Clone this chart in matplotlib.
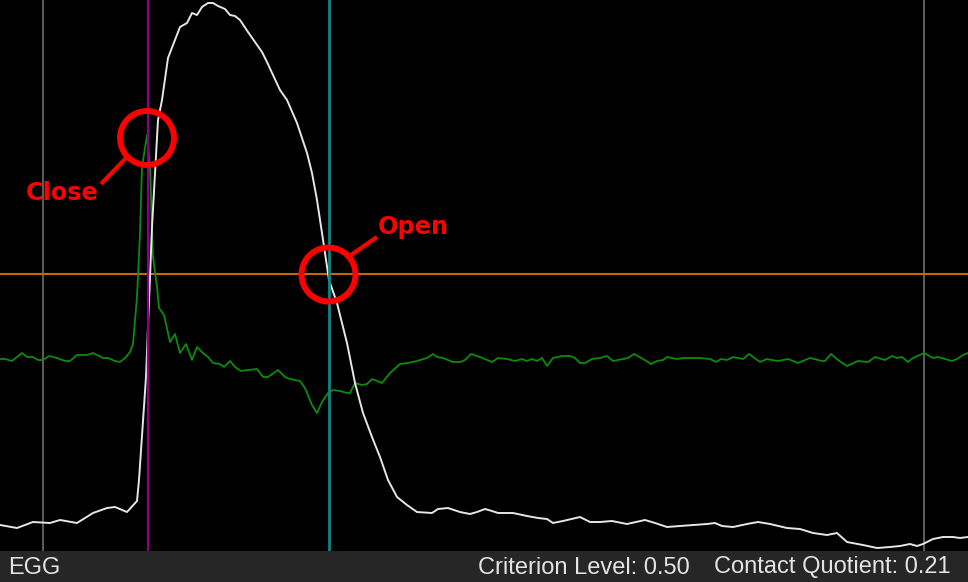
import matplotlib.pyplot as plt
from matplotlib.patches import Circle

# EGG waveform (white), sample position vs. amplitude (screen units, top = 0)
egg_t = [0, 17, 33, 50, 60, 77, 93, 107, 115, 127, 137, 139, 146, 152, 158, 162,
         168, 180, 187, 192, 197, 202, 208, 213, 218, 225, 230, 235, 240, 248,
         255, 262, 267, 273, 280, 287, 297, 307, 312, 317, 322, 325, 329, 337,
         347, 355, 363, 372, 380, 388, 397, 407, 417, 432, 438, 448, 460, 470,
         477, 485, 492, 498, 513, 527, 538, 547, 553, 563, 580, 590, 600, 612,
         627, 645, 655, 667, 680, 707, 715, 722, 733, 747, 758, 770, 787, 800,
         813, 827, 837, 847, 863, 877, 890, 900, 910, 917, 923, 933, 943, 953,
         960, 968]
egg_y = [525, 528, 522, 523, 520, 523, 513, 508, 507, 512, 501, 480, 377, 227,
         120, 100, 58, 27, 23, 13, 15, 7, 3, 3, 6, 9, 15, 16, 20, 32, 42, 52,
         62, 75, 90, 100, 123, 153, 173, 200, 233, 253, 280, 303, 343, 383, 413,
         437, 457, 480, 497, 505, 512, 513, 509, 508, 512, 514, 512, 509, 511,
         513, 513, 516, 518, 519, 523, 521, 517, 522, 522, 521, 524, 520, 523,
         527, 526, 524, 523, 526, 527, 524, 522, 524, 528, 529, 533, 535, 533,
         542, 545, 548, 547, 546, 544, 546, 544, 539, 537, 537, 538, 537]

# derivative of EGG (green)
degg_t = [0, 5, 12, 22, 27, 33, 38, 43, 49, 57, 65, 70, 77, 87, 93, 103, 108,
          115, 120, 125, 130, 133, 137, 140, 142, 147, 150, 153, 157, 159, 164,
          170, 175, 180, 186, 192, 197, 203, 208, 213, 220, 224, 230, 235, 241,
          248, 257, 263, 268, 278, 285, 290, 300, 305, 312, 317, 322, 328, 333,
          340, 347, 350, 355, 362, 367, 372, 382, 390, 400, 408, 417, 427, 433,
          437, 443, 453, 460, 465, 471, 480, 492, 498, 507, 515, 522, 527, 532,
          537, 542, 547, 553, 562, 570, 575, 580, 585, 592, 600, 607, 613, 623,
          628, 634, 643, 651, 657, 663, 667, 677, 683, 700, 710, 716, 721, 727,
          733, 743, 749, 760, 767, 772, 778, 788, 798, 810, 822, 825, 831, 838,
          847, 858, 868, 875, 885, 892, 897, 902, 908, 913, 924, 933, 938, 945,
          952, 957, 963, 968]
degg_y = [359, 359, 361, 353, 357, 357, 360, 360, 356, 358, 361, 361, 355, 355,
          353, 358, 358, 361, 362, 358, 352, 344, 297, 233, 167, 135, 167, 257,
          287, 308, 315, 342, 334, 353, 344, 360, 347, 353, 357, 363, 364, 367,
          361, 367, 371, 370, 369, 377, 377, 370, 377, 379, 381, 388, 405, 413,
          402, 393, 390, 391, 393, 393, 383, 385, 384, 379, 383, 373, 364, 363,
          361, 358, 354, 357, 358, 362, 362, 360, 354, 357, 362, 358, 359, 361,
          359, 361, 359, 361, 358, 366, 358, 356, 356, 358, 363, 363, 359, 358,
          356, 361, 359, 358, 354, 359, 364, 361, 360, 357, 359, 358, 358, 359,
          362, 359, 360, 357, 359, 354, 362, 359, 360, 361, 359, 363, 358, 361,
          361, 354, 360, 366, 361, 362, 357, 360, 356, 358, 357, 362, 358, 353,
          358, 357, 359, 361, 359, 355, 353]

cycle_marks = [43, 924]      # period boundaries
close_t = 148                # contact instant
open_t = 329                 # opening instant
criterion_y = 274            # criterion level line
criterion_level = 0.50
contact_quotient = 0.21

W, H, BAR = 968, 582, 31

fig = plt.figure(figsize=(W / 100, H / 100), dpi=100)
fig.patch.set_facecolor("#262626")

ax = fig.add_axes([0, BAR / H, 1, (H - BAR) / H])
ax.set_facecolor("black")
ax.set_xlim(0, W)
ax.set_ylim(H - BAR, 0)
ax.set_axis_off()
ax.add_patch(plt.Rectangle((0, 0), W, H - BAR, color="black", zorder=0))

for x in cycle_marks:
    ax.axvline(x, color="#6e6e6e", lw=1.2, zorder=1)
ax.axhline(criterion_y, color="#c8660f", lw=1.5, zorder=1)

ax.plot(degg_t, degg_y, color="#0b8c0b", lw=1.3, solid_joinstyle="round", zorder=2)
ax.plot(egg_t, egg_y, color="#e6e6e6", lw=1.4, solid_joinstyle="round", zorder=3)

ax.axvline(close_t, color="#880088", lw=1.6, zorder=4)
ax.axvline(open_t, color="#168282", lw=2.0, zorder=4)

# annotations
red = "#ff0000"
close_c = (147, 138)
open_c = (328.5, 274.5)
for c in (close_c, open_c):
    ax.add_patch(Circle(c, 27, fill=False, ec=red, lw=4.3, zorder=6, clip_on=False))
ax.plot([126, 101], [158, 184], color=red, lw=3, solid_capstyle="butt", zorder=6)
ax.plot([351, 377], [255, 237], color=red, lw=3, solid_capstyle="butt", zorder=6)
ax.text(26, 193, "Close", color=red, fontsize=17.3, fontweight="bold",
        family="DejaVu Sans", ha="left", va="center", zorder=7)
ax.text(378, 227, "Open", color=red, fontsize=17.3, fontweight="bold",
        family="DejaVu Sans", ha="left", va="center", zorder=7)

# status bar
ty = (BAR / 2 - 1) / H
fig.text(8 / W, ty, "EGG", color="#e4e4e4", fontsize=17, family="Liberation Sans",
         ha="left", va="center")
fig.text(690 / W, ty, f"Criterion Level: {criterion_level:.2f}", color="#e4e4e4",
         fontsize=17, family="Liberation Sans", ha="right", va="center")
fig.text(951 / W, ty, f"Contact Quotient: {contact_quotient:.2f}", color="#e4e4e4",
         fontsize=17, family="Liberation Sans", ha="right", va="center")

fig.savefig("out.png", dpi=100, facecolor=fig.get_facecolor())
